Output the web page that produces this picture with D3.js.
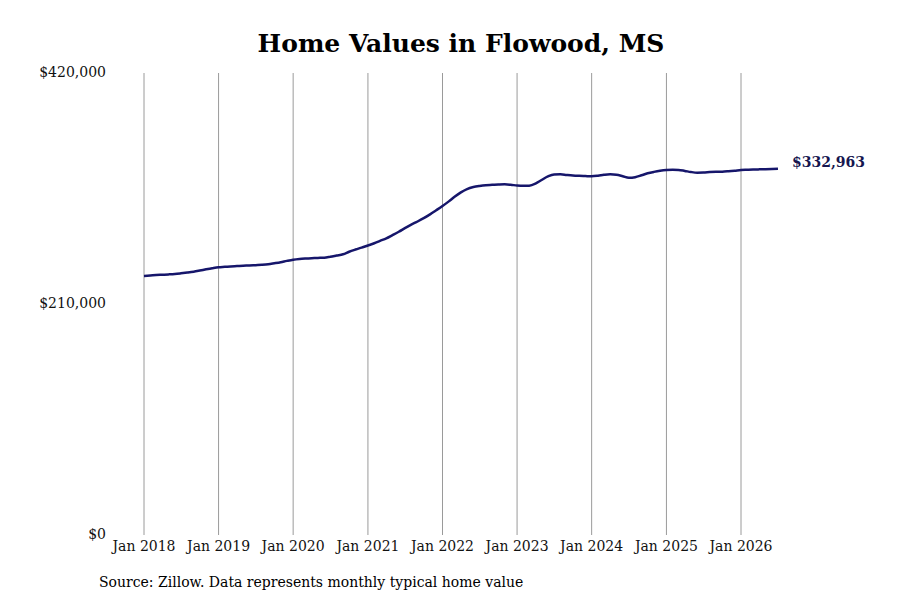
<!DOCTYPE html>
<html>
<head>
<meta charset="utf-8">
<script src="https://cdn.jsdelivr.net/npm/d3@7"></script>
<style>
  body { margin: 0; background: #fff; }
  svg text { font-family: "DejaVu Serif", serif; }
</style>
</head>
<body>
<svg id="chart" width="900" height="600"></svg>
<script>
// monthly typical home value (thousands), Jan 2018 .. Jul 2026
const startMonth = new Date(2018, 0, 1)
const values = [
  235.5, 235.9, 236.3, 236.6, 236.9, 237.3, 237.9, 238.6, 239.4, 240.4, 241.5, 242.5,
  243.4, 243.8, 244.2, 244.5, 244.8, 245.0, 245.3, 245.6, 246.1, 247.0, 248.0, 249.2,
  250.3, 251.0, 251.4, 251.7, 251.9, 252.1, 253.0, 254.1, 255.2, 257.5, 259.5, 261.3,
  263.2, 265.2, 267.4, 269.7, 272.6, 275.7, 279.0, 282.2, 285.0, 288.0, 291.5, 295.2,
  299.1, 303.3, 307.5, 311.5, 314.5, 316.3, 317.3, 318.0, 318.3, 318.6, 318.8, 318.4,
  317.7, 317.4, 317.6, 319.5, 322.7, 326.0, 327.8, 327.9, 327.3, 326.8, 326.5, 326.3,
  326.1, 326.6, 327.4, 327.9, 327.5, 326.2, 324.8, 325.3, 327.0, 328.8, 330.1, 331.1,
  331.8, 332.1, 331.9, 331.0, 330.0, 329.4, 329.5, 329.9, 330.2, 330.3, 330.7, 331.2,
  331.8, 332.0, 332.2, 332.4, 332.6, 332.8, 332.963
]
const yTicks = [0, 210000, 420000]
const xTickYears = [2018, 2019, 2020, 2021, 2022, 2023, 2024, 2025, 2026]
const lastLabel = '$332,963'
const titleText = 'Home Values in Flowood, MS'
const sourceText = 'Source: Zillow. Data represents monthly typical home value'

const data = values.map((v, i) => ({
  date: d3.timeMonth.offset(startMonth, i),
  value: v * 1000
}))

const svg = d3.select('#chart')
const margin = { top: 73, left: 144, bottom: 65 }

const x = d3.scaleTime()
  .domain([new Date(2018, 0, 1), new Date(2026, 0, 1)])
  .range([144, 741])
const y = d3.scaleLinear()
  .domain([0, 420000])
  .range([535, 73])

// vertical grid at each January
svg.append('g')
  .selectAll('line')
  .data(xTickYears)
  .enter().append('line')
  .attr('x1', d => x(new Date(d, 0, 1)))
  .attr('x2', d => x(new Date(d, 0, 1)))
  .attr('y1', y(420000))
  .attr('y2', y(0))
  .attr('stroke', '#9a9a9a')
  .attr('stroke-width', 1)

// x tick labels
svg.append('g')
  .selectAll('text')
  .data(xTickYears)
  .enter().append('text')
  .attr('x', d => x(new Date(d, 0, 1)))
  .attr('y', y(0) + 16)
  .attr('text-anchor', 'middle')
  .attr('font-size', 14)
  .attr('fill', '#111')
  .text(d => 'Jan ' + d)

// y tick labels
const fmt = d3.format('$,')
svg.append('g')
  .selectAll('text')
  .data(yTicks)
  .enter().append('text')
  .attr('x', 106)
  .attr('y', d => y(d))
  .attr('dy', '0.32em')
  .attr('text-anchor', 'end')
  .attr('font-size', 14)
  .attr('fill', '#111')
  .text(d => fmt(d))

// the line
const line = d3.line()
  .x(d => x(d.date))
  .y(d => y(d.value))
  .curve(d3.curveMonotoneX)

svg.append('path')
  .datum(data)
  .attr('d', line)
  .attr('fill', 'none')
  .attr('stroke', '#16166b')
  .attr('stroke-width', 2.5)
  .attr('stroke-linejoin', 'round')

// end label
const last = data[data.length - 1]
svg.append('text')
  .attr('x', x(last.date) + 14)
  .attr('y', y(last.value) - 6)
  .attr('dy', '0.32em')
  .attr('font-size', 14)
  .attr('font-weight', 'bold')
  .attr('fill', '#16164f')
  .text(lastLabel)

// title
svg.append('text')
  .attr('x', 461)
  .attr('y', 52)
  .attr('text-anchor', 'middle')
  .attr('font-size', 25)
  .attr('font-weight', 'bold')
  .attr('fill', '#000')
  .text(titleText)

// source note
svg.append('text')
  .attr('x', 99)
  .attr('y', 587)
  .attr('font-size', 14)
  .attr('fill', '#000')
  .text(sourceText)
</script>
</body>
</html>
